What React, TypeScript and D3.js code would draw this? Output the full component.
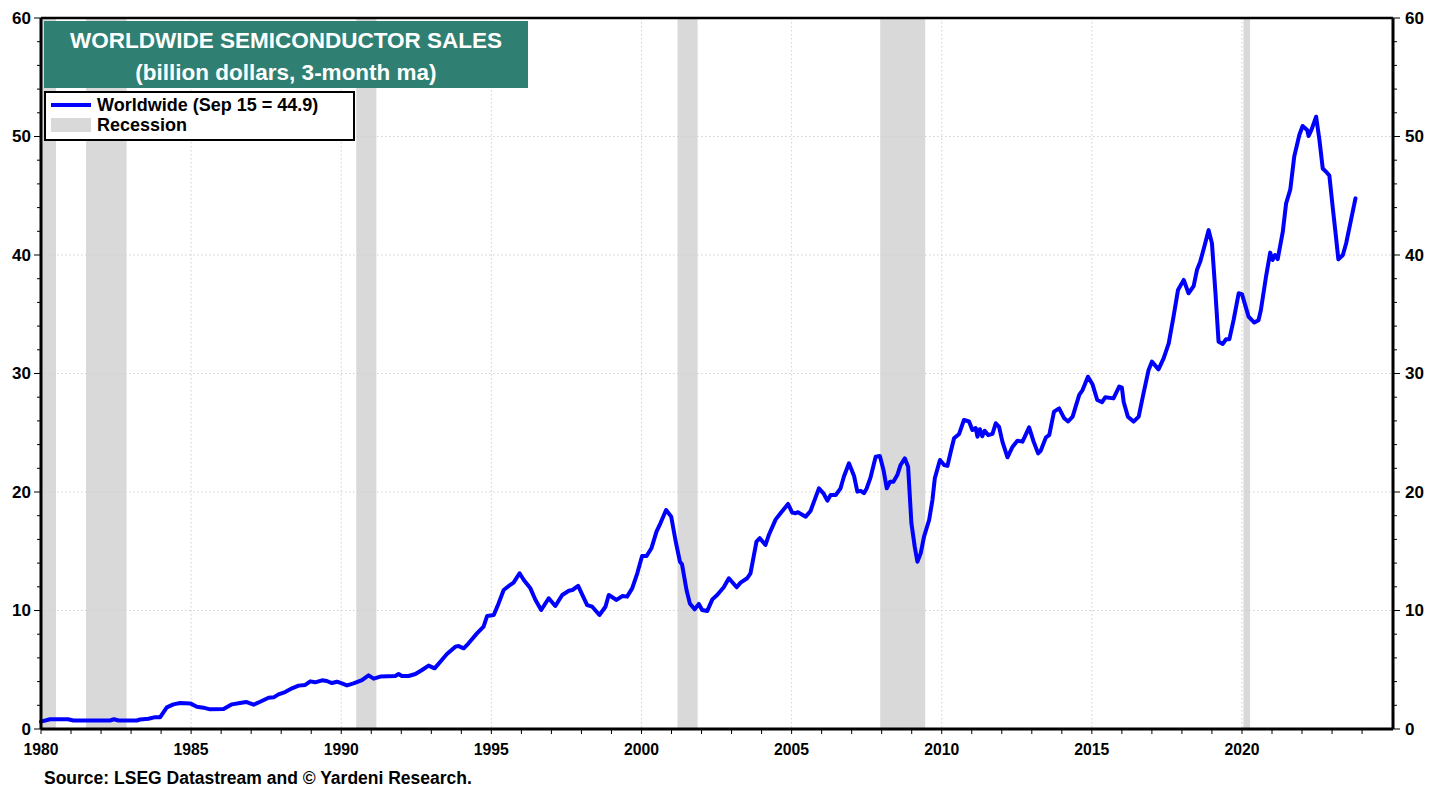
import React from "react";
import * as d3 from "d3";

const years: number[] = [
  1980.0, 1980.3, 1980.9, 1981.08, 1982.3, 1982.43, 1982.58, 1983.19, 1983.3, 1983.58, 1983.8, 1983.97,
  1984.19, 1984.41, 1984.63, 1984.97, 1985.19, 1985.41, 1985.63, 1986.08, 1986.36, 1986.63, 1986.83,
  1987.08, 1987.3, 1987.58, 1987.75, 1987.91, 1988.13, 1988.36, 1988.58, 1988.8, 1988.97, 1989.13,
  1989.36, 1989.52, 1989.69, 1989.86, 1990.02, 1990.19, 1990.41, 1990.69, 1990.91, 1991.08, 1991.3,
  1991.8, 1991.91, 1992.02, 1992.24, 1992.47, 1992.69, 1992.91, 1993.11, 1993.3, 1993.52, 1993.8,
  1993.91, 1994.08, 1994.24, 1994.52, 1994.74, 1994.86, 1995.08, 1995.24, 1995.41, 1995.58, 1995.74,
  1995.94, 1996.08, 1996.3, 1996.47, 1996.66, 1996.91, 1997.13, 1997.36, 1997.58, 1997.7, 1997.89,
  1998.19, 1998.36, 1998.6, 1998.8, 1998.91, 1999.17, 1999.36, 1999.52, 1999.69, 1999.86, 2000.02,
  2000.17, 2000.33, 2000.5, 2000.63, 2000.82, 2000.99, 2001.13, 2001.28, 2001.35, 2001.5, 2001.61,
  2001.77, 2001.91, 2002.02, 2002.19, 2002.36, 2002.52, 2002.74, 2002.91, 2003.17, 2003.3, 2003.52,
  2003.63, 2003.83, 2003.94, 2004.13, 2004.24, 2004.47, 2004.63, 2004.88, 2005.02, 2005.13, 2005.21,
  2005.47, 2005.63, 2005.91, 2006.06, 2006.19, 2006.3, 2006.47, 2006.63, 2006.74, 2006.91, 2007.08,
  2007.19, 2007.3, 2007.41, 2007.5, 2007.63, 2007.8, 2007.94, 2008.06, 2008.17, 2008.28, 2008.39,
  2008.52, 2008.63, 2008.77, 2008.88, 2008.99, 2009.1, 2009.19, 2009.3, 2009.41, 2009.58, 2009.69,
  2009.77, 2009.94, 2010.08, 2010.19, 2010.3, 2010.41, 2010.58, 2010.74, 2010.91, 2011.02, 2011.13,
  2011.19, 2011.27, 2011.35, 2011.43, 2011.55, 2011.69, 2011.8, 2011.91, 2012.02, 2012.19, 2012.36,
  2012.52, 2012.69, 2012.91, 2013.06, 2013.21, 2013.3, 2013.47, 2013.58, 2013.74, 2013.91, 2014.08,
  2014.21, 2014.36, 2014.58, 2014.69, 2014.87, 2015.02, 2015.18, 2015.34, 2015.45, 2015.72, 2015.91,
  2016.0, 2016.06, 2016.2, 2016.39, 2016.56, 2016.72, 2016.89, 2017.0, 2017.22, 2017.39, 2017.56,
  2017.72, 2017.87, 2018.06, 2018.22, 2018.39, 2018.5, 2018.61, 2018.76, 2018.89, 2019.0, 2019.11,
  2019.22, 2019.36, 2019.47, 2019.58, 2019.72, 2019.89, 2020.0, 2020.22, 2020.33, 2020.41, 2020.55,
  2020.63, 2020.8, 2020.94, 2021.02, 2021.1, 2021.19, 2021.36, 2021.47, 2021.61, 2021.74, 2021.91,
  2022.02, 2022.17, 2022.22, 2022.32, 2022.47, 2022.58, 2022.69, 2022.83, 2022.91, 2023.02, 2023.13,
  2023.21, 2023.36, 2023.47, 2023.63, 2023.78,
];

const worldwide: number[] = [
  0.62, 0.82, 0.82, 0.72, 0.72, 0.82, 0.72, 0.72, 0.8, 0.87, 1.0, 1.0,
  1.83, 2.08, 2.19, 2.16, 1.88, 1.8, 1.66, 1.69, 2.08, 2.19, 2.28,
  2.05, 2.3, 2.64, 2.67, 2.92, 3.12, 3.43, 3.66, 3.72, 4.02, 3.94,
  4.11, 4.05, 3.88, 3.99, 3.85, 3.68, 3.85, 4.13, 4.53, 4.25, 4.42,
  4.47, 4.64, 4.47, 4.47, 4.64, 4.98, 5.35, 5.12, 5.68, 6.33, 6.95,
  7.0, 6.81, 7.23, 8.07, 8.64, 9.54, 9.62, 10.6, 11.73, 12.07, 12.35,
  13.14, 12.57, 11.87, 10.89, 10.04, 11.03, 10.38, 11.31, 11.67, 11.73, 12.07,
  10.46, 10.32, 9.62, 10.32, 11.31, 10.89, 11.22, 11.17, 11.87, 13.14, 14.6,
  14.6, 15.25, 16.65, 17.36, 18.48, 17.92, 15.95, 14.12, 13.9, 11.73, 10.6,
  10.1, 10.55, 10.04, 9.96, 10.94, 11.31, 11.96, 12.72, 11.96, 12.35, 12.72,
  13.14, 15.81, 16.1, 15.53, 16.37, 17.69, 18.2, 18.99, 18.26, 18.2, 18.3,
  17.92, 18.4, 20.31, 19.89, 19.27, 19.75, 19.75, 20.31, 21.29, 22.42, 21.35,
  20.03, 20.1, 19.9, 20.3, 21.24, 22.98, 23.04, 21.86, 20.31, 20.87, 20.87,
  21.43, 22.28, 22.84, 22.14, 17.36, 15.39, 14.12, 14.82, 16.23, 17.64, 19.32,
  21.16, 22.7, 22.28, 22.2, 23.4, 24.53, 24.9, 26.08, 25.95, 25.23, 25.4,
  24.67, 25.3, 24.7, 25.17, 24.8, 24.9, 25.8, 25.5, 24.25, 22.93, 23.82,
  24.33, 24.25, 25.46, 24.25, 23.26, 23.5, 24.61, 24.8, 26.78, 27.06, 26.22,
  25.95, 26.36, 28.19, 28.6, 29.73, 29.1, 27.76, 27.58, 28.0, 27.9, 28.89,
  28.8, 27.6, 26.36, 25.94, 26.36, 28.33, 30.3, 31.0, 30.35, 31.28, 32.55,
  34.8, 37.05, 37.9, 36.77, 37.38, 38.73, 39.44, 40.84, 42.1, 40.98, 37.05,
  32.68, 32.5, 32.89, 32.9, 34.5, 36.77, 36.7, 34.8, 34.5, 34.3, 34.5,
  35.36, 38.17, 40.2, 39.58, 40.0, 39.66, 41.97, 44.36, 45.54, 48.3, 50.13,
  50.89, 50.55, 50.04, 50.6, 51.67, 49.7, 47.3, 46.95, 46.7, 44.08, 41.54,
  39.63, 40.0, 40.99, 42.95, 44.78,
];

const recessionStarts: number[] = [1980.0, 1981.5, 1990.5, 2001.2, 2007.95, 2020.05];
const recessionEnds: number[] = [1980.5, 1982.85, 1991.17, 2001.87, 2009.45, 2020.27];

const xLabelYears: number[] = [1980, 1985, 1990, 1995, 2000, 2005, 2010, 2015, 2020];
const yTicks: number[] = [0, 10, 20, 30, 40, 50, 60];

const titleLines: string[] = ["WORLDWIDE SEMICONDUCTOR SALES", "(billion dollars, 3-month ma)"];
const seriesLabel = "Worldwide (Sep 15 = 44.9)";
const recessionLabel = "Recession";
const sourceText = "Source: LSEG Datastream and \u00A9 Yardeni Research.";

const W = 1443;
const H = 792;
const L = 41;
const R = 1393;
const T = 18;
const B = 729;

const FONT = "Liberation Sans, Arial, Helvetica, sans-serif";

export default function App() {
  const x = d3.scaleLinear().domain([1980, 2025.03]).range([L, R]);
  const y = d3.scaleLinear().domain([0, 60]).range([B, T]);

  const line = d3
    .line<number>()
    .x((_, i) => x(years[i]))
    .y((v) => y(v))
    .curve(d3.curveLinear);

  const minorY = d3.range(0, 61, 2);
  const yearTicks = d3.range(1980, 2025, 1);

  return (
    <div style={{ position: "absolute", left: 0, top: 0 }}>
      <svg width={W} height={H} style={{ display: "block", background: "#fff" }} fontFamily={FONT}>
        {/* recession bands */}
        {recessionStarts.map((s, i) => (
          <rect key={"r" + i} x={x(s)} y={T} width={x(recessionEnds[i]) - x(s)} height={B - T} fill="#d9d9d9" />
        ))}
        {/* gridlines */}
        {yTicks.filter((t) => t > 0 && t < 60).map((t) => (
          <line key={"gy" + t} x1={L} x2={R} y1={y(t)} y2={y(t)} stroke="#cfcfcf" strokeWidth={1} strokeDasharray="1.5,2.5" />
        ))}
        {xLabelYears.filter((t) => t > 1980).map((t) => (
          <line key={"gx" + t} x1={x(t)} x2={x(t)} y1={T} y2={B} stroke="#cfcfcf" strokeWidth={1} strokeDasharray="1.5,2.5" />
        ))}
        {/* data line */}
        <path d={line(worldwide) || ""} fill="none" stroke="#0000ff" strokeWidth={4} strokeLinejoin="round" strokeLinecap="round" />

        {/* frame */}
        <line x1={L} x2={R} y1={T} y2={T} stroke="#000" strokeWidth={2.5} />
        <line x1={L} x2={R} y1={B} y2={B} stroke="#000" strokeWidth={3} />
        <line x1={L} x2={L} y1={T} y2={B} stroke="#000" strokeWidth={3} />
        <line x1={R} x2={R} y1={T} y2={B} stroke="#000" strokeWidth={3} />

        {/* y ticks */}
        {minorY.map((t) => (
          <g key={"ty" + t}>
            <line x1={L - (t % 10 === 0 ? 7 : 4)} x2={L} y1={y(t)} y2={y(t)} stroke="#000" strokeWidth={1} />
            <line x1={R} x2={R + (t % 10 === 0 ? 7 : 4)} y1={y(t)} y2={y(t)} stroke="#000" strokeWidth={1} />
          </g>
        ))}
        {yTicks.map((t) => (
          <g key={"ly" + t} fontWeight="bold" fontSize={17} fill="#000">
            <text x={L - 10} y={y(t)} dy="0.35em" textAnchor="end">{t}</text>
            <text x={R + 12} y={y(t)} dy="0.35em" textAnchor="start">{t}</text>
          </g>
        ))}
        {/* x ticks */}
        {yearTicks.map((t) => (
          <line key={"tx" + t} x1={x(t)} x2={x(t)} y1={B} y2={B + 5} stroke="#000" strokeWidth={1} />
        ))}
        {xLabelYears.map((t) => (
          <text key={"lx" + t} x={x(t)} y={755} textAnchor="middle" fontWeight="bold" fontSize={17} fill="#000" textLength={35} lengthAdjust="spacingAndGlyphs">{t}</text>
        ))}

        {/* title box */}
        <rect x={44} y={21} width={484} height={67} fill="#2f7f73" />
        <text x={286} y={48} textAnchor="middle" fill="#fff" fontWeight="bold" fontSize={22.5}>{titleLines[0]}</text>
        <text x={286} y={80} textAnchor="middle" fill="#fff" fontWeight="bold" fontSize={22.5}>{titleLines[1]}</text>

        {/* legend */}
        <rect x={45} y={92} width={309} height={48} fill="#fff" stroke="#000" strokeWidth={2} />
        <line x1={51} x2={91} y1={105} y2={105} stroke="#0000ff" strokeWidth={4} />
        <text x={97} y={111} fontWeight="bold" fontSize={18} fill="#000">{seriesLabel}</text>
        <rect x={51} y={118} width={40} height={14} fill="#d9d9d9" />
        <text x={97} y={131} fontWeight="bold" fontSize={18} fill="#000">{recessionLabel}</text>

        {/* source */}
        <text x={44} y={784} fontWeight="bold" fontSize={17.5} fill="#000">{sourceText}</text>
      </svg>
    </div>
  );
}
